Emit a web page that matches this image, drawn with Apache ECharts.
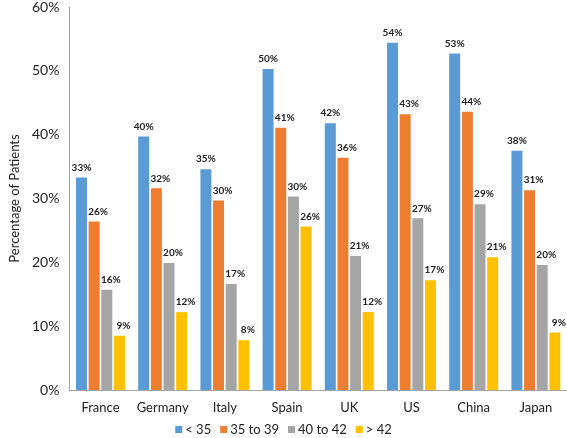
<!DOCTYPE html>
<html>
<head>
<meta charset="UTF-8">
<title>Percentage of Patients by Age Group</title>
<script src="https://cdn.jsdelivr.net/npm/echarts@6/dist/echarts.min.js"></script>
<style>
    html, body { margin: 0; padding: 0; background: #fff; }
    #chart { width: 567px; height: 438px; }
</style>
</head>
<body>
<div id="chart"></div>
<script>
    // data (percent)
    var countries = ['France', 'Germany', 'Italy', 'Spain', 'UK', 'US', 'China', 'Japan'];
    var seriesNames = ['< 35', '35 to 39', '40 to 42', '> 42'];
    var under35 = [33.3, 39.7, 34.6, 50.3, 41.8, 54.4, 52.7, 37.5];
    var age35to39 = [26.4, 31.6, 29.7, 41.1, 36.4, 43.2, 43.6, 31.3];
    var age40to42 = [15.7, 19.9, 16.6, 30.3, 21.0, 26.9, 29.1, 19.6];
    var over42 = [8.5, 12.2, 7.8, 25.6, 12.2, 17.2, 20.8, 9.0];
    var yTicks = [0, 10, 20, 30, 40, 50, 60];

    var colors = ['#5B9BD5', '#ED7D31', '#A5A5A5', '#FFC000'];
    var font = 'Lato, "Open Sans", sans-serif';

    function makeSeries(name, data, idx) {
        return {
            name: name,
            type: 'bar',
            data: data,
            barWidth: 11,
            barGap: '15%',
            itemStyle: { color: colors[idx] },
            label: {
                show: true,
                position: 'top',
                distance: 5,
                offset: [idx === 0 ? 0 : 4, 0],
                fontSize: 10,
                fontWeight: 'bold',
                fontFamily: font,
                color: '#222',
                formatter: function (p) { return Math.round(p.value) + '%'; }
            }
        };
    }

    var myChart = echarts.init(document.getElementById('chart'));
    var option = {
        animation: false,
        color: colors,
        grid: { left: 50, right: 0, top: 6, bottom: 48 },
        legend: {
            top: 418,
            left: 'center',
            itemWidth: 7,
            itemHeight: 7,
            itemGap: 9,
            icon: 'rect',
            textStyle: { fontSize: 13, fontFamily: font, color: '#222', padding: [0, 0, 0, -2] },
            data: seriesNames
        },
        xAxis: {
            type: 'category',
            data: countries,
            axisLine: { lineStyle: { color: '#A6A6A6' } },
            axisTick: { show: false },
            axisLabel: { interval: 0, fontSize: 13, fontFamily: font, color: '#222', margin: 11 }
        },
        yAxis: {
            type: 'value',
            min: yTicks[0],
            max: yTicks[yTicks.length - 1],
            interval: 10,
            name: 'Percentage of Patients',
            nameLocation: 'middle',
            nameGap: 37,
            nameTextStyle: { fontSize: 13, fontFamily: font, color: '#222' },
            axisLine: { show: true, lineStyle: { color: '#A6A6A6' } },
            axisTick: { show: false },
            splitLine: { show: false },
            axisLabel: {
                fontSize: 14, fontFamily: font, color: '#222', margin: 10,
                formatter: '{value}%'
            }
        },
        series: [
            makeSeries(seriesNames[0], under35, 0),
            makeSeries(seriesNames[1], age35to39, 1),
            makeSeries(seriesNames[2], age40to42, 2),
            makeSeries(seriesNames[3], over42, 3)
        ]
    };
    myChart.setOption(option);
</script>
</body>
</html>
